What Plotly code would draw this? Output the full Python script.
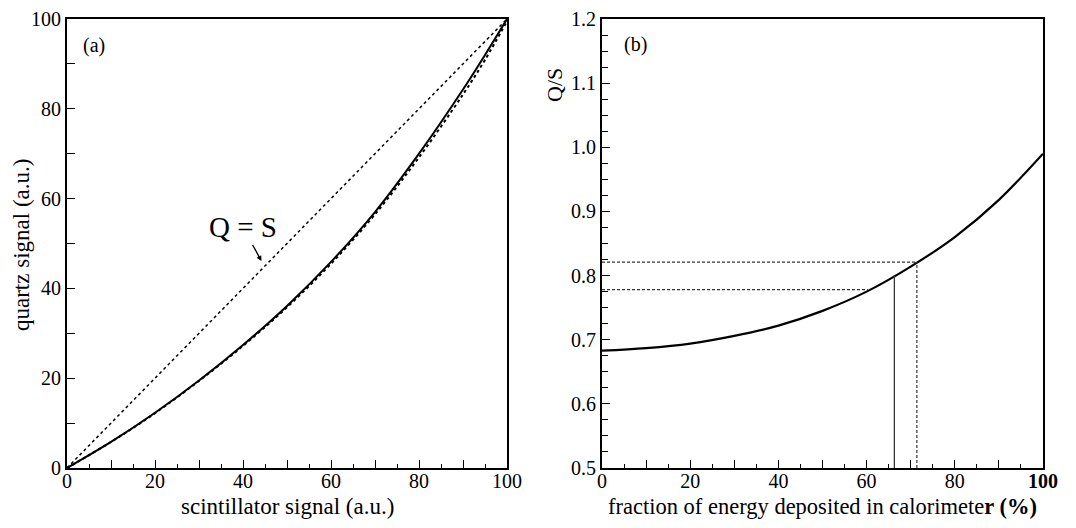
"""Quartz vs scintillator signal (a) and Q/S vs energy fraction (b)"""

import plotly.graph_objects as go

# Panel (a): scintillator signal vs quartz signal
# --------------------
scint = [0, 10, 20, 30, 40, 50, 60, 70, 80, 90, 95, 100]
quartz_fit = [0, 5.8, 12.3, 19.5, 27.4, 36.1, 45.9, 57.0, 70.0, 84.3, 92.0, 100]
quartz_data = [0, 5.8, 12.2, 19.4, 27.2, 35.8, 45.5, 56.5, 69.2, 83.2, 90.9, 99.5]
ident = [0, 100]

# Panel (b): fraction of energy deposited vs Q/S
# --------------------
frac = [0, 10, 20, 30, 40, 50, 60, 70, 80, 90, 100]
ratio = [0.683, 0.687, 0.694, 0.706, 0.722, 0.745, 0.775, 0.814, 0.860, 0.918, 0.990]

# reference lines
vert_x = [66.3, 71.4]
vert_top = [0.800, 0.821]
horiz_y = [0.821, 0.778]
horiz_end = [71.4, 60.3]

x_ticks = list(range(0, 101, 10))
x_text_a = [str(v) if v % 20 == 0 else "" for v in x_ticks]
x_text_b = [str(v) if v % 20 == 0 else "" for v in x_ticks]
x_text_b[-1] = "<b>100</b>"
y_ticks_a = list(range(0, 101, 10))
y_text_a = [str(v) if v % 20 == 0 else "" for v in y_ticks_a]
y_ticks_b = [0.5, 0.6, 0.7, 0.8, 0.9, 1.0, 1.1, 1.2]
y_text_b = ["0.5", "0.6", "0.7", "0.8", "0.9", "1.0", "1.1", "1.2"]

FONT = "Liberation Serif"
# page body has an 8px margin, so the figure is a bit smaller than the window
OFF = 8
W, H = 1076 - 2 * OFF, 528 - 2 * OFF


def px(p):
    """window x pixel -> paper fraction"""
    return (p - OFF) / W


def py(p):
    """window y pixel (from top) -> paper fraction (from bottom)"""
    return 1 - (p - OFF) / H


fig = go.Figure()

fig.add_trace(go.Scatter(x=ident, y=ident, mode="lines",
                         line=dict(color="black", width=1.5, dash="dot"),
                         xaxis="x", yaxis="y"))
fig.add_trace(go.Scatter(x=scint, y=quartz_data, mode="lines", line_shape="spline",
                         line=dict(color="black", width=2, dash="dot"),
                         xaxis="x", yaxis="y"))
fig.add_trace(go.Scatter(x=scint, y=quartz_fit, mode="lines", line_shape="spline",
                         line=dict(color="black", width=2),
                         xaxis="x", yaxis="y"))

fig.add_trace(go.Scatter(x=frac, y=ratio, mode="lines", line_shape="spline",
                         line=dict(color="black", width=2.2),
                         xaxis="x2", yaxis="y2"))
fig.add_trace(go.Scatter(x=[vert_x[0], vert_x[0]], y=[0.5, vert_top[0]], mode="lines",
                         line=dict(color="#333333", width=1.3),
                         xaxis="x2", yaxis="y2"))
fig.add_trace(go.Scatter(x=[vert_x[1], vert_x[1]], y=[0.5, vert_top[1]], mode="lines",
                         line=dict(color="#333333", width=1.2, dash="3px,2px"),
                         xaxis="x2", yaxis="y2"))
for hy, hx in zip(horiz_y, horiz_end):
    fig.add_trace(go.Scatter(x=[0, hx], y=[hy, hy], mode="lines",
                             line=dict(color="#333333", width=1.2, dash="3px,2px"),
                             xaxis="x2", yaxis="y2"))

axis_common = dict(
    showgrid=False, zeroline=False, showline=True, linecolor="black", linewidth=2,
    mirror=True, ticks="inside", ticklen=8, tickwidth=1.3, tickcolor="black",
    tickfont=dict(family=FONT, size=20, color="black"), fixedrange=True,
    automargin=False, ticklabeloverflow="allow",
)
x_extra = dict(ticklabelstandoff=-6,
               minor=dict(dtick=5, ticks="inside", ticklen=4, tickcolor="black"))

ydom = [py(468), py(19)]

fig.update_layout(
    template="none",
    width=W, height=H,
    margin=dict(l=0, r=0, t=0, b=0, pad=0),
    plot_bgcolor="white", paper_bgcolor="white",
    showlegend=False,
    font=dict(family=FONT, color="black"),
    xaxis=dict(axis_common, **x_extra, domain=[px(67), px(507)], range=[0, 100],
               anchor="y", tickmode="array", tickvals=x_ticks, ticktext=x_text_a),
    yaxis=dict(axis_common, domain=ydom, range=[0, 100], anchor="x",
               tickmode="array", tickvals=y_ticks_a, ticktext=y_text_a),
    xaxis2=dict(axis_common, **x_extra, domain=[px(602), px(1043)], range=[0, 100],
                anchor="y2", tickmode="array", tickvals=x_ticks, ticktext=x_text_b),
    yaxis2=dict(axis_common, domain=ydom, range=[0.5, 1.2], anchor="x2",
                tickmode="array", tickvals=y_ticks_b, ticktext=y_text_b,
                minor=dict(dtick=0.025, ticks="inside", ticklen=6, tickcolor="black")),
)

title_font = dict(family=FONT, size=23, color="black")
fig.add_annotation(text="scintillator signal (a.u.)", xref="paper", yref="paper",
                   x=px((67 + 507) / 2), y=py(506), xanchor="center",
                   yanchor="middle", showarrow=False, font=title_font)
fig.add_annotation(text="fraction of energy deposited in calorimete<b>r (%)</b>",
                   xref="paper", yref="paper", x=px((602 + 1043) / 2), y=py(506),
                   xanchor="center", yanchor="middle", showarrow=False,
                   font=dict(family=FONT, size=22.5, color="black"))
fig.add_annotation(text="quartz signal (a.u.)", xref="paper", yref="paper",
                   x=px(21), y=py(245), xanchor="center", yanchor="middle",
                   textangle=-90, showarrow=False, font=title_font)
fig.add_annotation(text="Q/S", xref="paper", yref="paper",
                   x=px(554), y=py(85), xanchor="center", yanchor="middle",
                   textangle=-90, showarrow=False,
                   font=dict(family=FONT, size=22, color="black"))

panel_font = dict(family=FONT, size=20, color="black")
fig.add_annotation(text="(a)", xref="x", yref="y", x=3.2, y=94.2, xanchor="left",
                   showarrow=False, font=panel_font)
fig.add_annotation(text="(b)", xref="x2", yref="y2", x=4.6, y=1.161, xanchor="left",
                   showarrow=False, font=panel_font)

fig.add_annotation(text="Q = S", xref="x", yref="y", x=44.3, y=45.9,
                   axref="x", ayref="y", ax=40.0, ay=53.6,
                   showarrow=True, arrowhead=2, arrowsize=0.8, arrowwidth=1.3,
                   arrowcolor="black", standoff=1,
                   font=dict(family=FONT, size=29, color="black"))

fig.write_html("out.html")
